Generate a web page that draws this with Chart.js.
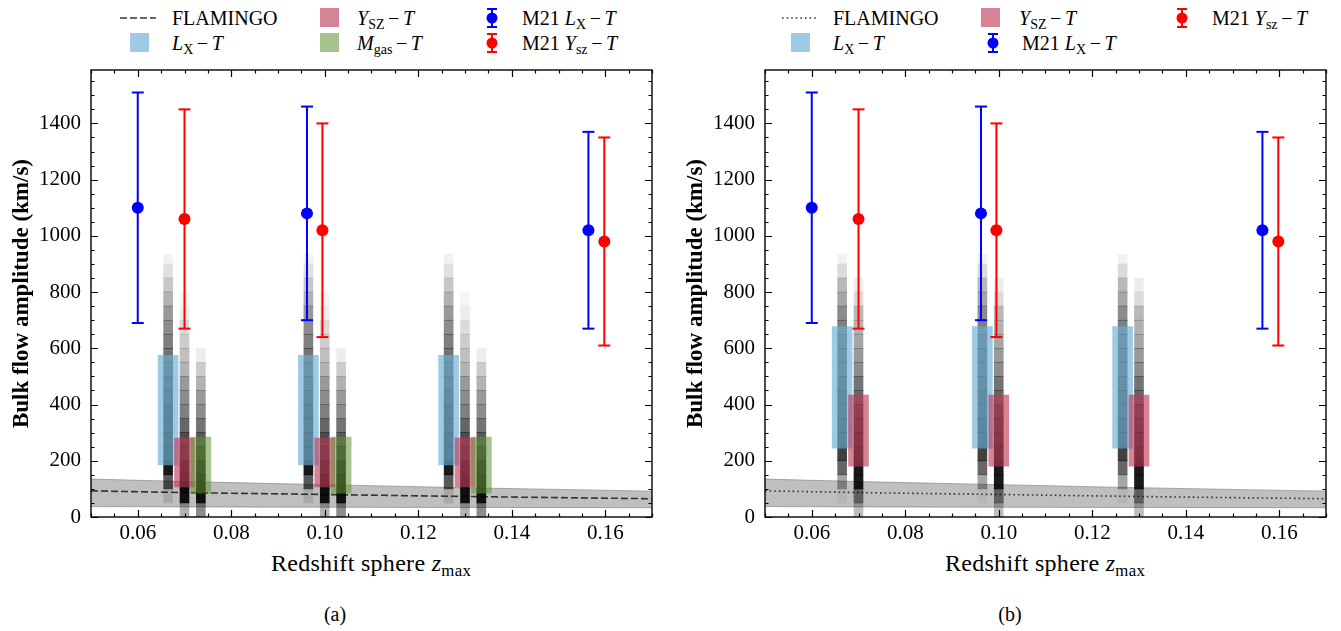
<!DOCTYPE html>
<html><head><meta charset="utf-8">
<script src="https://cdn.jsdelivr.net/npm/chart.js@4.4.1/dist/chart.umd.min.js"></script>
<style>
body{margin:0;width:1341px;height:631px;background:#fff;position:relative;overflow:hidden;font-family:'Liberation Serif','Times New Roman',serif;color:#000;}
canvas{position:absolute;top:60px;}
.t{position:absolute;font-size:20px;white-space:nowrap;line-height:1;transform:translateY(-50%);}
.c{transform:translate(-50%,-50%);}
.s{position:relative;top:0.32em;font-size:0.7em;}
.m{margin:0 0.18em;}
.sq{position:absolute;width:19px;height:19px;}
svg{position:absolute;overflow:visible;}
</style>
</head><body>
<canvas id="cA" width="670" height="490" style="left:0px"></canvas>
<canvas id="cB" width="671" height="490" style="left:670px"></canvas>

<!-- legend (a) -->
<svg style="left:120px;top:16px" width="36" height="4"><line x1="0" y1="2" x2="36" y2="2" stroke="#333" stroke-width="1.6" stroke-dasharray="7,3"/></svg>
<div class="t" style="left:172px;top:18px">FLAMINGO</div>
<div class="sq" style="left:130px;top:33px;background:rgb(159,202,228)"></div>
<div class="t" style="left:172px;top:43px"><i>L</i><span class="s">X</span><span class="m">−</span><i>T</i></div>
<div class="sq" style="left:320px;top:8px;background:rgb(215,131,150)"></div>
<div class="t" style="left:357px;top:18px"><i>Y</i><span class="s">SZ</span><span class="m">−</span><i>T</i></div>
<div class="sq" style="left:320px;top:33px;background:rgb(167,194,142)"></div>
<div class="t" style="left:357px;top:43px"><i>M</i><span class="s">gas</span><span class="m">−</span><i>T</i></div>
<svg style="left:486px;top:8px" width="12" height="20"><line x1="6" y1="0" x2="6" y2="20" stroke="#00f" stroke-width="2"/><line x1="1" y1="1" x2="11" y2="1" stroke="#00f" stroke-width="2"/><line x1="1" y1="19" x2="11" y2="19" stroke="#00f" stroke-width="2"/><circle cx="6" cy="10" r="5.5" fill="#00f"/></svg>
<div class="t" style="left:522px;top:18px">M21 <i>L</i><span class="s">X</span><span class="m">−</span><i>T</i></div>
<svg style="left:486px;top:33px" width="12" height="20"><line x1="6" y1="0" x2="6" y2="20" stroke="#f00" stroke-width="2"/><line x1="1" y1="1" x2="11" y2="1" stroke="#f00" stroke-width="2"/><line x1="1" y1="19" x2="11" y2="19" stroke="#f00" stroke-width="2"/><circle cx="6" cy="10" r="5.5" fill="#f00"/></svg>
<div class="t" style="left:522px;top:43px">M21 <i>Y</i><span class="s">sz</span><span class="m">−</span><i>T</i></div>

<!-- legend (b) -->
<svg style="left:782px;top:16px" width="34" height="4"><line x1="0" y1="2" x2="34" y2="2" stroke="#333" stroke-width="1.6" stroke-dasharray="1.6,3"/></svg>
<div class="t" style="left:833px;top:18px">FLAMINGO</div>
<div class="sq" style="left:791px;top:33px;background:rgb(159,202,228)"></div>
<div class="t" style="left:833px;top:43px"><i>L</i><span class="s">X</span><span class="m">−</span><i>T</i></div>
<div class="sq" style="left:981px;top:8px;background:rgb(215,131,150)"></div>
<div class="t" style="left:1019px;top:18px"><i>Y</i><span class="s">SZ</span><span class="m">−</span><i>T</i></div>
<svg style="left:987px;top:33px" width="12" height="20"><line x1="6" y1="0" x2="6" y2="20" stroke="#00f" stroke-width="2"/><line x1="1" y1="1" x2="11" y2="1" stroke="#00f" stroke-width="2"/><line x1="1" y1="19" x2="11" y2="19" stroke="#00f" stroke-width="2"/><circle cx="6" cy="10" r="5.5" fill="#00f"/></svg>
<div class="t" style="left:1022px;top:43px">M21 <i>L</i><span class="s">X</span><span class="m">−</span><i>T</i></div>
<svg style="left:1176px;top:8px" width="12" height="20"><line x1="6" y1="0" x2="6" y2="20" stroke="#f00" stroke-width="2"/><line x1="1" y1="1" x2="11" y2="1" stroke="#f00" stroke-width="2"/><line x1="1" y1="19" x2="11" y2="19" stroke="#f00" stroke-width="2"/><circle cx="6" cy="10" r="5.5" fill="#f00"/></svg>
<div class="t" style="left:1212px;top:18px">M21 <i>Y</i><span class="s">sz</span><span class="m">−</span><i>T</i></div>

<!-- x labels and captions -->
<div class="t c" style="left:371px;top:563px;font-size:24px;letter-spacing:0.3px">Redshift sphere <i>z</i><span class="s">max</span></div>
<div class="t c" style="left:1045px;top:563px;font-size:24px;letter-spacing:0.3px">Redshift sphere <i>z</i><span class="s">max</span></div>
<div class="t c" style="left:335px;top:614px;font-size:20px">(a)</div>
<div class="t c" style="left:1010px;top:614px;font-size:20px">(b)</div>

<script>
// ---------- axes ----------
const xMin = 0.05, xMax = 0.17, yMin = 0, yMax = 1590;
const xTickVals = [0.06, 0.08, 0.10, 0.12, 0.14, 0.16];
const xTickLabels = ['0.06', '0.08', '0.10', '0.12', '0.14', '0.16'];
const yTickVals = [0, 200, 400, 600, 800, 1000, 1200, 1400];
const yTickLabels = ['0', '200', '400', '600', '800', '1000', '1200', '1400'];
const xMinorStep = 0.005, yMinorStep = 50;

// ---------- FLAMINGO expectation (band + median) ----------
const flamZ   = [0.05, 0.07, 0.10, 0.13, 0.17];
const flamMid = [93, 87, 80, 73, 65];
const flamHi  = [135, 126, 115, 104, 92];
const flamLo  = [37, 36, 35, 34, 33];

// ---------- M21 measurements ----------
const m21LxZ  = [0.06, 0.0962, 0.1564];
const m21LxV  = [1100, 1080, 1020];
const m21LxLo = [690, 700, 670];
const m21LxHi = [1510, 1460, 1370];
const m21YszZ  = [0.07, 0.0995, 0.1598];
const m21YszV  = [1060, 1020, 980];
const m21YszLo = [670, 640, 610];
const m21YszHi = [1450, 1400, 1350];

// ---------- sample positions ----------
const lxZ   = [0.0665, 0.0965, 0.1265];
const yszZ  = [0.0700, 0.1000, 0.1300];
const mgasZ = [0.0735, 0.1035, 0.1335];

// ---------- percentile boxes ----------
const aLxBoxLo = [185, 185, 185],  aLxBoxHi = [575, 575, 575];
const aYszBoxLo = [107, 107, 107], aYszBoxHi = [281, 281, 281];
const aMgasBoxLo = [85, 85, 85],   aMgasBoxHi = [284, 284, 284];
const bLxBoxLo = [245, 245, 245],  bLxBoxHi = [677, 677, 677];
const bYszBoxLo = [181, 181, 181], bYszBoxHi = [434, 434, 434];

// ---------- sample density (shade per 50 km/s bin, same at the three z) ----------
const binLo = [0, 50, 100, 150, 200, 250, 300, 350, 400, 450, 500, 550, 600, 650, 700, 750, 800, 850, 900];
const binHi = [50, 100, 150, 200, 250, 300, 350, 400, 450, 500, 550, 600, 650, 700, 750, 800, 850, 900, 935];
const aLxShade   = [0, 0.12, 0.65, 0.9, 0.8, 0.8, 0.75, 0.75, 0.7, 0.65, 0.6, 0.55, 0.5, 0.45, 0.4, 0.3, 0.22, 0.12, 0.05];
const aYszShade  = [0.3, 0.92, 0.9, 0.85, 0.75, 0.7, 0.6, 0.5, 0.45, 0.4, 0.3, 0.25, 0.2, 0.14, 0.07, 0.04, 0, 0, 0];
const aMgasShade = [0.45, 0.92, 0.9, 0.85, 0.75, 0.65, 0.55, 0.45, 0.4, 0.3, 0.2, 0.07, 0, 0, 0, 0, 0, 0, 0];
const bLxShade   = [0, 0.05, 0.35, 0.6, 0.75, 0.75, 0.75, 0.7, 0.7, 0.65, 0.6, 0.6, 0.55, 0.5, 0.45, 0.35, 0.28, 0.14, 0.05];
const bYszShade  = [0.25, 0.5, 0.9, 0.9, 0.85, 0.8, 0.75, 0.7, 0.6, 0.55, 0.45, 0.4, 0.35, 0.3, 0.28, 0.14, 0.07, 0, 0];

const FONT = "'Liberation Serif', 'Times New Roman', serif";

function sampleDataset(zs, shade, order) {
  const data = [], colors = [];
  zs.forEach(z => {
    binLo.forEach((lo, i) => {
      if (shade[i] > 0) {
        data.push({x: z, y: [lo, binHi[i]]});
        colors.push('rgba(0,0,0,' + shade[i] + ')');
      }
    });
  });
  return {type: 'bar', data, backgroundColor: colors, borderWidth: 0, barThickness: 9, grouped: false, order};
}
function boxDataset(zs, lo, hi, color, order) {
  return {type: 'bar', data: zs.map((z, i) => ({x: z, y: [lo[i], hi[i]]})), backgroundColor: color,
    borderWidth: 0, barThickness: 20, grouped: false, order};
}
function errDatasets(zs, v, lo, hi, color) {
  const bars = [];
  zs.forEach((z, i) => { bars.push({x: z, y: lo[i]}, {x: z, y: hi[i]}, {x: z, y: null}); });
  return [
    {type: 'line', data: zs.map((z, i) => ({x: z, y: v[i]})), showLine: false, pointRadius: 6,
      pointBackgroundColor: color, pointBorderWidth: 0, order: -1},
    {type: 'line', data: bars, borderColor: color, borderWidth: 2, spanGaps: false, pointStyle: 'line',
      pointRadius: 6, pointBorderColor: color, pointBorderWidth: 2, order: 0}
  ];
}
function flamDatasets(dash) {
  const mk = arr => flamZ.map((z, i) => ({x: z, y: arr[i]}));
  return [
    {type: 'line', data: mk(flamHi), borderColor: 'rgba(140,140,140,0.7)', borderWidth: 1, pointRadius: 0,
      fill: '+1', backgroundColor: 'rgba(128,128,128,0.5)', cubicInterpolationMode: 'monotone', order: 20},
    {type: 'line', data: mk(flamLo), borderColor: 'rgba(140,140,140,0.7)', borderWidth: 1, pointRadius: 0,
      fill: false, cubicInterpolationMode: 'monotone', order: 21},
    {type: 'line', data: mk(flamMid), borderColor: '#333', borderWidth: 1.6, borderDash: dash, pointRadius: 0,
      fill: false, cubicInterpolationMode: 'monotone', order: 19}
  ];
}

const frameTicks = {
  id: 'frameTicks',
  afterDraw(chart) {
    const {ctx, chartArea: {left, right, top, bottom}, scales: {x, y}} = chart;
    ctx.save();
    ctx.strokeStyle = '#000';
    ctx.lineWidth = 1.2;
    ctx.beginPath();
    const nX = Math.round((xMax - xMin) / xMinorStep);
    for (let k = 0; k <= nX; k++) {
      const v = xMin + k * xMinorStep;
      const major = xTickVals.some(t => Math.abs(t - v) < 1e-6);
      const L = major ? 7 : 3.5;
      const px = Math.round(x.getPixelForValue(v)) + 0.5;
      ctx.moveTo(px, bottom); ctx.lineTo(px, bottom - L);
      ctx.moveTo(px, top); ctx.lineTo(px, top + L);
    }
    const nY = Math.floor((yMax - yMin) / yMinorStep);
    for (let k = 0; k <= nY; k++) {
      const v = yMin + k * yMinorStep;
      const major = yTickVals.includes(v);
      const L = major ? 7 : 3.5;
      const py = Math.round(y.getPixelForValue(v)) + 0.5;
      ctx.moveTo(left, py); ctx.lineTo(left + L, py);
      ctx.moveTo(right, py); ctx.lineTo(right - L, py);
    }
    ctx.stroke();
    ctx.lineWidth = 1.4;
    ctx.strokeRect(left, top, right - left, bottom - top);
    ctx.restore();
  }
};

function makeChart(id, datasets, padLeft, padRight) {
  new Chart(document.getElementById(id), {
    type: 'bar',
    data: {datasets},
    options: {
      responsive: false, animation: false, devicePixelRatio: 1,
      layout: {padding: {left: padLeft, right: padRight, top: 10, bottom: 0}},
      plugins: {legend: {display: false}, tooltip: {enabled: false}},
      scales: {
        x: {type: 'linear', min: xMin, max: xMax, offset: false,
          grid: {display: false, drawTicks: false}, border: {display: false},
          afterBuildTicks: s => { s.ticks = xTickVals.map(v => ({value: v})); },
          afterFit: s => { s.height = 33; s.paddingLeft = 0; s.paddingRight = 0; s.paddingTop = 0; s.paddingBottom = 0; },
          ticks: {autoSkip: false, maxRotation: 0, padding: 4, color: '#000', font: {family: FONT, size: 21},
            callback: (v, i) => xTickLabels[i]}},
        y: {type: 'linear', min: yMin, max: yMax,
          grid: {display: false, drawTicks: false}, border: {display: false},
          afterBuildTicks: s => { s.ticks = yTickVals.map(v => ({value: v})); },
          afterFit: s => { s.width = 91; s.paddingTop = 0; s.paddingBottom = 0; s.paddingLeft = 0; s.paddingRight = 0; },
          ticks: {autoSkip: false, padding: 10, color: '#000', font: {family: FONT, size: 21},
            callback: (v, i) => yTickLabels[i]},
          title: {display: true, text: 'Bulk flow amplitude (km/s)', color: '#000',
            font: {family: FONT, size: 23, weight: 'bold'}, padding: {top: 8, bottom: 0}}}
      }
    },
    plugins: [frameTicks]
  });
}

const BLUE = 'rgba(107,174,214,0.65)', PINK = 'rgba(191,55,85,0.62)', GREEN = 'rgba(95,145,50,0.55)';

makeChart('cA', [
  ...errDatasets(m21LxZ, m21LxV, m21LxLo, m21LxHi, '#0000ff'),
  ...errDatasets(m21YszZ, m21YszV, m21YszLo, m21YszHi, '#ff0000'),
  boxDataset(mgasZ, aMgasBoxLo, aMgasBoxHi, GREEN, 1),
  boxDataset(yszZ, aYszBoxLo, aYszBoxHi, PINK, 2),
  boxDataset(lxZ, aLxBoxLo, aLxBoxHi, BLUE, 3),
  sampleDataset(lxZ, aLxShade, 5),
  sampleDataset(yszZ, aYszShade, 6),
  sampleDataset(mgasZ, aMgasShade, 7),
  ...flamDatasets([7, 3])
], 0, 18);

makeChart('cB', [
  ...errDatasets(m21LxZ, m21LxV, m21LxLo, m21LxHi, '#0000ff'),
  ...errDatasets(m21YszZ, m21YszV, m21YszLo, m21YszHi, '#ff0000'),
  boxDataset(yszZ, bYszBoxLo, bYszBoxHi, PINK, 2),
  boxDataset(lxZ, bLxBoxLo, bLxBoxHi, BLUE, 3),
  sampleDataset(lxZ, bLxShade, 5),
  sampleDataset(yszZ, bYszShade, 6),
  ...flamDatasets([1.6, 3])
], 4, 15);
</script>
</body></html>
